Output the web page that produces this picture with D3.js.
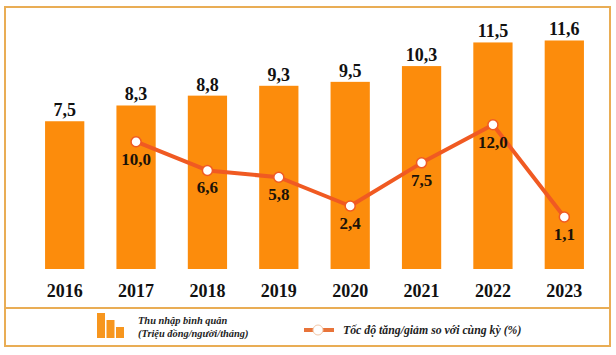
<!DOCTYPE html>
<html><head><meta charset="utf-8">
<script src="https://cdn.jsdelivr.net/npm/d3@7"></script>
<style>html,body{margin:0;padding:0;background:#fff;}svg{display:block;}
svg text{font-family:"Liberation Serif","Times New Roman",serif;font-weight:bold;}</style>
</head><body>
<svg id="c" width="616" height="355"></svg>
<script>
const years = ["2016","2017","2018","2019","2020","2021","2022","2023"];
const income = [7.5, 8.3, 8.8, 9.3, 9.5, 10.3, 11.5, 11.6];
const growthYears = ["2017","2018","2019","2020","2021","2022","2023"];
const growth = [10.0, 6.6, 5.8, 2.4, 7.5, 12.0, 1.1];
const legendBar = "Thu nhập bình quân";
const legendBar2 = "(Triệu đồng/người/tháng)";
const legendLine = "Tốc độ tăng/giảm so với cùng kỳ (%)";

const fmt = v => v.toFixed(1).replace(".", ",");
const svg = d3.select("#c");
const barColor = "#fc8c0c", lineColor = "#f05a22", borderColor = "#e9ad55";

// frame
svg.append("rect").attr("x",5).attr("y",7).attr("width",605).attr("height",339)
  .attr("fill","#fff").attr("stroke",borderColor).attr("stroke-width",2);
svg.append("line").attr("x1",5).attr("x2",610).attr("y1",308).attr("y2",308)
  .attr("stroke",borderColor).attr("stroke-width",2);

const x = d3.scaleBand().domain(years).range([29,600]).paddingInner(0.45).paddingOuter(0.225);
const yBar = d3.scaleLinear().domain([0,13]).range([269, 269-13*19.7]);
const yLine = d3.scaleLinear().domain([0,13]).range([226.3, 226.3-13*8.46]);

svg.append("g").selectAll("rect").data(years).join("rect")
  .attr("x", d => x(d)).attr("width", x.bandwidth())
  .attr("y", (d,i) => yBar(income[i])).attr("height", (d,i) => yBar(0)-yBar(income[i]))
  .attr("fill", barColor);

svg.append("g").selectAll("text").data(years).join("text")
  .attr("x", d => x(d)+x.bandwidth()/2).attr("y", (d,i) => yBar(income[i])-5)
  .attr("text-anchor","middle").style("font-size","18px")
  .attr("fill","#111").text((d,i)=>fmt(income[i]));

// x axis labels
const xAxis = d3.axisBottom(x).tickSize(0).tickPadding(0);
const ax = svg.append("g").attr("transform","translate(0,283)").call(xAxis);
ax.select(".domain").remove();
ax.selectAll("text").style("font-family",'"Liberation Serif","Times New Roman",serif')
  .style("font-weight","bold").style("font-size","18px").attr("fill","#111").attr("dy","0.78em");

// line
const cx = d => x(d)+x.bandwidth()/2;
const line = d3.line().x((d,i)=>cx(growthYears[i])).y(d=>yLine(d));
svg.append("path").datum(growth).attr("d", line).attr("fill","none")
  .attr("stroke",lineColor).attr("stroke-width",4).attr("stroke-linejoin","round");
svg.append("g").selectAll("circle").data(growth).join("circle")
  .attr("cx",(d,i)=>cx(growthYears[i])).attr("cy",d=>yLine(d)).attr("r",5)
  .attr("fill","#fff").attr("stroke",lineColor).attr("stroke-width",1.5);
svg.append("g").selectAll("text").data(growth).join("text")
  .attr("x",(d,i)=>cx(growthYears[i])).attr("y",d=>yLine(d)+23)
  .attr("text-anchor","middle").style("font-size","17px")
  .attr("fill","#1a1208").text(d=>fmt(d));

// legend
const lg = svg.append("g");
const iconH = [25, 18, 11];
lg.selectAll("rect").data(iconH).join("rect")
  .attr("x",(d,i)=>97+i*9.5).attr("width",8).attr("y",d=>338-d).attr("height",d=>d)
  .attr("fill","#f7961e");
lg.append("text").attr("x",138).attr("y",324).style("font-style","italic")
  .style("font-size","10.4px").attr("fill","#222").text(legendBar);
lg.append("text").attr("x",138).attr("y",337).style("font-style","italic")
  .style("font-size","10.4px").attr("fill","#222").text(legendBar2);
lg.append("line").attr("x1",304).attr("x2",334).attr("y1",330).attr("y2",330)
  .attr("stroke","#e8743a").attr("stroke-width",4);
lg.append("circle").attr("cx",318).attr("cy",330).attr("r",5)
  .attr("fill","#fff").attr("stroke","#f3c7a8").attr("stroke-width",1);
lg.append("text").attr("x",343).attr("y",333.5).style("font-style","italic")
  .style("font-size","11.8px").attr("fill","#222").text(legendLine);
</script>
</body></html>
